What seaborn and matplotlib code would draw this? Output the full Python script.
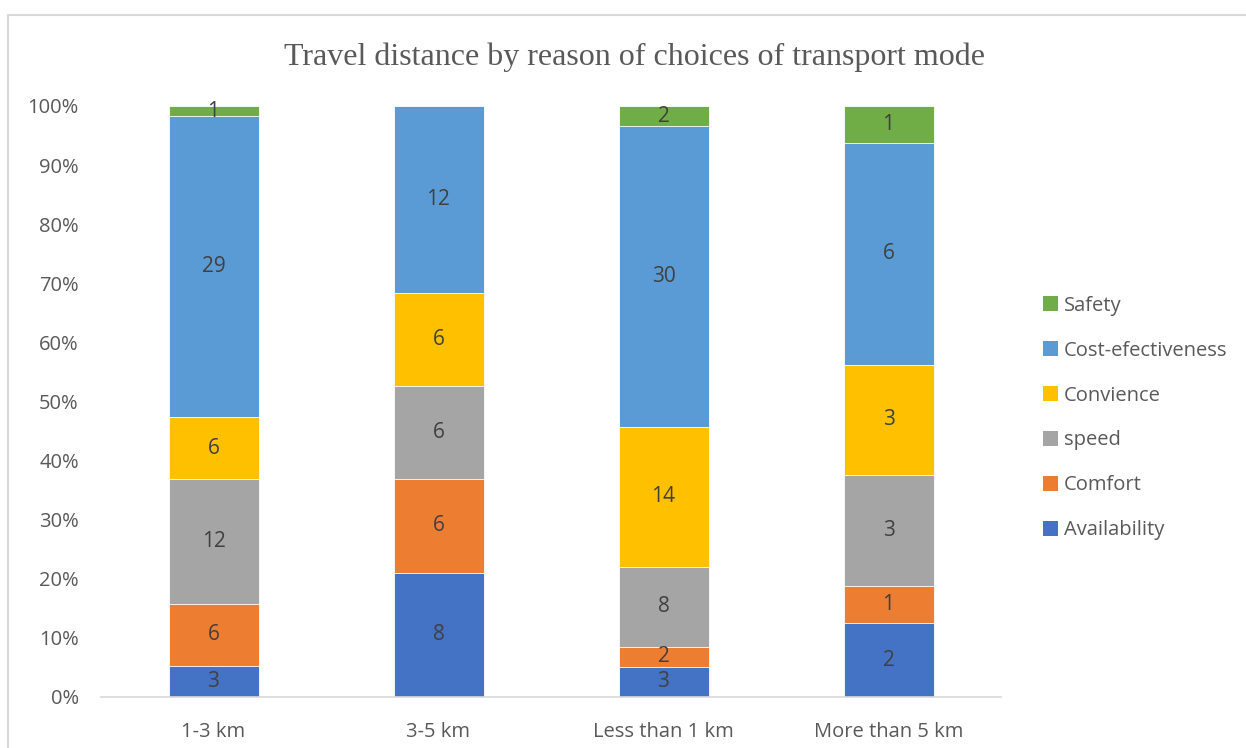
import numpy as np
import pandas as pd
import seaborn as sns
import matplotlib
matplotlib.use("Agg")
import matplotlib.pyplot as plt
from matplotlib.patches import Patch
from matplotlib.lines import Line2D

# Survey counts: reason for choosing a transport mode, by travel distance
distances = ["1-3 km", "3-5 km", "Less than 1 km", "More than 5 km"]
reasons = ["Availability", "Comfort", "speed", "Convience", "Cost-efectiveness", "Safety"]
availability = [3, 8, 3, 2]
comfort = [6, 6, 2, 1]
speed = [12, 6, 8, 3]
convience = [6, 6, 14, 3]
cost_effectiveness = [29, 12, 30, 6]
safety = [1, 0, 2, 1]

colors = ["#4472C4", "#ED7D31", "#A5A5A5", "#FFC000", "#5B9BD5", "#70AD47"]

counts = np.array([availability, comfort, speed, convience, cost_effectiveness, safety], dtype=float)
shares = counts / counts.sum(axis=0)
cum_top = np.cumsum(shares, axis=0)

sns.set_theme(style="white")
plt.rcParams["font.family"] = ["Open Sans", "DejaVu Sans"]

fig = plt.figure(figsize=(12.46, 7.48), dpi=100)
ax = fig.add_axes([101 / 1246, 1 - 697 / 748, 900 / 1246, (697 - 106) / 748])

# Stacked 100% bars: draw cumulative totals from the top layer down
for i in range(len(reasons) - 1, -1, -1):
    df = pd.DataFrame({"distance": distances, "share": cum_top[i]})
    sns.barplot(data=df, x="distance", y="share", order=distances, color=colors[i],
                width=0.4, saturation=1, edgecolor="white", linewidth=0.6, ax=ax)

# Segment value labels
for i in range(len(reasons)):
    for j in range(len(distances)):
        if counts[i, j] > 0:
            mid = cum_top[i, j] - shares[i, j] / 2
            ax.text(j, mid, f"{int(counts[i, j])}", ha="center", va="center",
                    fontsize=15, color="#404040")

ax.set_xlim(-0.5, 3.5)
ax.set_ylim(0, 1)
ax.set_yticks(np.arange(0, 1.01, 0.1))
ax.set_yticklabels([f"{int(round(v * 100))}%" for v in np.arange(0, 1.01, 0.1)])
ax.set_xlabel("")
ax.set_ylabel("")
ax.tick_params(axis="both", length=0, labelsize=14.5, labelcolor="#595959")
ax.tick_params(axis="y", pad=16)
ax.tick_params(axis="x", pad=18)
for side in ["top", "right", "left"]:
    ax.spines[side].set_visible(False)
ax.spines["bottom"].set_color("#D9D9D9")
ax.spines["bottom"].set_linewidth(1.2)

fig.text(635 / 1246, 1 - 57 / 748, "Travel distance by reason of choices of transport mode",
         ha="center", va="center", fontsize=23, color="#595959",
         family=["Liberation Serif", "DejaVu Serif"])

handles = [Patch(facecolor=c, edgecolor="none") for c in colors][::-1]
leg = fig.legend(handles, reasons[::-1], loc="center left",
                 bbox_to_anchor=(1043 / 1246, 1 - 418 / 748), frameon=False,
                 borderpad=0, borderaxespad=0,
                 fontsize=14.5, handlelength=0.75, handleheight=0.75,
                 handletextpad=0.3, labelspacing=1.24)
for t in leg.get_texts():
    t.set_color("#595959")

# Chart border (top and left edges)
fig.add_artist(Line2D([8 / 1246, 8 / 1246], [0, 1 - 15 / 748], transform=fig.transFigure,
                      color="#D9D9D9", linewidth=1.5))
fig.add_artist(Line2D([8 / 1246, 1], [1 - 15 / 748, 1 - 15 / 748], transform=fig.transFigure,
                      color="#D9D9D9", linewidth=1.5))

fig.savefig("out.png", dpi=100, facecolor="white")
